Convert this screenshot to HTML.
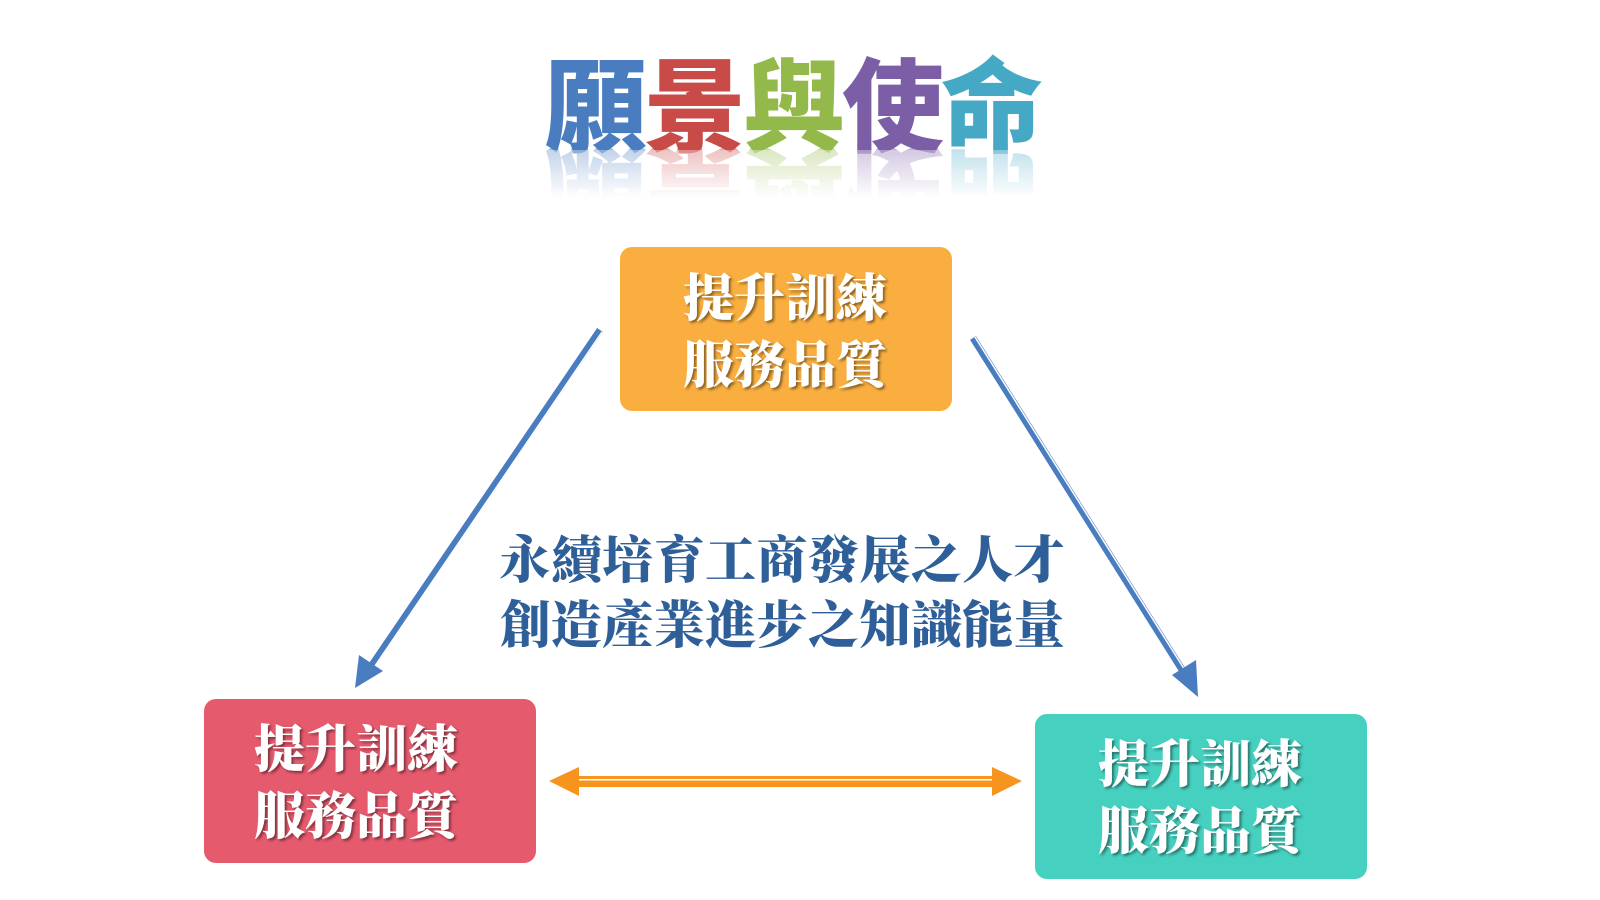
<!DOCTYPE html>
<html><head><meta charset="utf-8"><style>
html,body{margin:0;padding:0;background:#fff;}
svg{display:block}
.t{font-family:"Liberation Sans","Noto Sans CJK TC",sans-serif;font-weight:900;font-size:102px}
.s{font-family:"Liberation Serif","Noto Serif CJK SC",serif;font-weight:900}
</style></head><body>
<svg width="1600" height="900" viewBox="0 0 1600 900" xmlns="http://www.w3.org/2000/svg">
<defs>
<linearGradient id="fade" x1="0" y1="0" x2="0" y2="1">
<stop offset="0" stop-color="#fff" stop-opacity="0.35"/>
<stop offset="0.5" stop-color="#fff" stop-opacity="1"/>
<stop offset="1" stop-color="#fff" stop-opacity="1"/>
</linearGradient>
<filter id="sh" x="-10%" y="-10%" width="130%" height="130%"><feDropShadow dx="2" dy="2" stdDeviation="1.2" flood-color="#000" flood-opacity="0.45"/></filter>
</defs>
<!-- title -->
<g class="t" text-anchor="middle">
<text x="596" y="144" fill="#4a7dc0">願</text>
<text x="695" y="144" fill="#c84b48">景</text>
<text x="794" y="144" fill="#93b94a">與</text>
<text x="893" y="144" fill="#7b5ea6">使</text>
<text x="992" y="144" fill="#45a9c5">命</text>
</g>
<g class="t" text-anchor="middle" transform="translate(0,296) scale(1,-1)" opacity="0.5">
<text x="596" y="144" fill="#4a7dc0">願</text>
<text x="695" y="144" fill="#c84b48">景</text>
<text x="794" y="144" fill="#93b94a">與</text>
<text x="893" y="144" fill="#7b5ea6">使</text>
<text x="992" y="144" fill="#45a9c5">命</text>
</g>
<rect x="520" y="150" width="560" height="96" fill="url(#fade)"/>
<!-- boxes -->
<rect x="620" y="247" width="332" height="164" rx="12" fill="#f9ae3f"/>
<rect x="204" y="699" width="332" height="164" rx="12" fill="#e55a6d"/>
<rect x="1035" y="714" width="332" height="165" rx="12" fill="#46d0c0"/>
<g class="s" font-size="51" fill="#fff" text-anchor="middle" filter="url(#sh)">
<text x="785" y="316">提升訓練</text>
<text x="785" y="383">服務品質</text>
<text x="356" y="767">提升訓練</text>
<text x="356" y="834">服務品質</text>
<text x="1200" y="782">提升訓練</text>
<text x="1200" y="849">服務品質</text>
</g>
<!-- center text -->
<g class="s" font-size="51" fill="#2f5f98" text-anchor="middle">
<text x="782" y="578" textLength="565" lengthAdjust="spacing">永續培育工商發展之人才</text>
<text x="782" y="643" textLength="565" lengthAdjust="spacing">創造產業進步之知識能量</text>
</g>
<!-- blue arrows -->
<g stroke="#4a7dc0" stroke-width="7" fill="none">
<line x1="600" y1="330" x2="372" y2="665"/>
<line x1="973" y1="338" x2="1186" y2="676"/>
</g>
<g stroke="#fff" stroke-width="1.5" fill="none">
<line x1="602" y1="332" x2="375" y2="666"/>
<line x1="975" y1="337" x2="1188" y2="675"/>
</g>
<polygon points="355,688 359,655 383,671" fill="#4a7dc0"/>
<polygon points="1198,697 1172,675 1196,660" fill="#4a7dc0"/>
<!-- orange arrow -->
<rect x="575" y="776" width="420" height="11" fill="#f7941d"/>
<rect x="575" y="779" width="420" height="1.5" fill="#fff"/>
<polygon points="549,781 579,767 579,796" fill="#f7941d"/>
<polygon points="1022,781 992,767 992,796" fill="#f7941d"/>
</svg>
</body></html>
